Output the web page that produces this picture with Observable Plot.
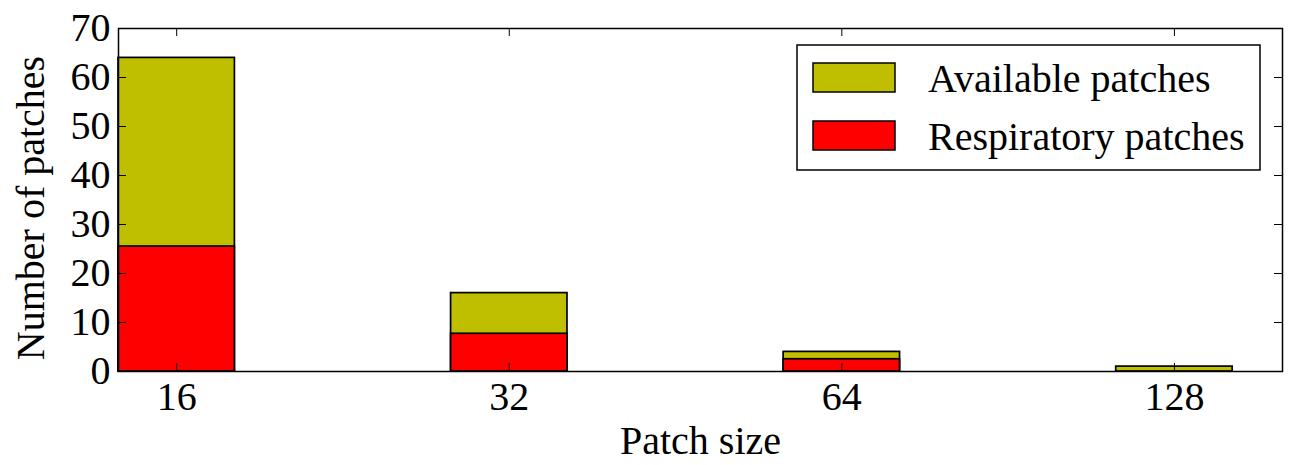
<!DOCTYPE html>
<html><head><meta charset="utf-8">
<script src="https://cdn.jsdelivr.net/npm/d3@7"></script>
<script src="https://cdn.jsdelivr.net/npm/@observablehq/plot@0.6"></script>
<style>body{margin:0;background:#fff} #chart{position:relative;width:1290px;height:465px}</style>
</head><body><div id="chart"></div>
<script>
const patchSizes = ["16", "32", "64", "128"];
const availablePatches = [64, 16, 4, 1];
const respiratoryPatches = [25.5, 7.7, 2.5, 0];
const yTicks = [0, 10, 20, 30, 40, 50, 60, 70];
const seriesNames = ["Available patches", "Respiratory patches"];
const seriesColors = ["#bfbf00", "#ff0000"];

const barWidth = 0.35;
const rows = patchSizes.map((s, i) => ({size: s, i, available: availablePatches[i], respiratory: respiratoryPatches[i]}));
const xTicks = rows.map(d => d.i + barWidth / 2);
const font = "'Liberation Serif', 'Times New Roman', serif";
const FS = 40;
const W = 1290, H = 465, mL = 118, mR = 8, mT = 28, mB = 94;
const frameH = H - mT - mB, frameW = W - mL - mR, tickLen = 8;

const plot = Plot.plot({
  width: W, height: H, marginLeft: mL, marginRight: mR, marginTop: mT, marginBottom: mB,
  style: {fontFamily: font, fontSize: FS + "px", color: "black", background: "white"},
  x: {type: "linear", domain: [0, 3.5]},
  y: {domain: [0, 70]},
  marks: [
    Plot.rect(rows, {x1: "i", x2: d => d.i + barWidth, y1: 0, y2: "available", fill: seriesColors[0], stroke: "black", strokeWidth: 1.7}),
    Plot.rect(rows, {x1: "i", x2: d => d.i + barWidth, y1: 0, y2: "respiratory", fill: seriesColors[1], stroke: "black", strokeWidth: 1.7}),
    Plot.tickX(xTicks, {x: d => d, insetTop: frameH - tickLen, stroke: "black", strokeWidth: 1}),
    Plot.tickX(xTicks, {x: d => d, insetBottom: frameH - tickLen, stroke: "black", strokeWidth: 1}),
    Plot.tickY(yTicks, {y: d => d, insetRight: frameW - tickLen, stroke: "black", strokeWidth: 1}),
    Plot.tickY(yTicks, {y: d => d, insetLeft: frameW - tickLen, stroke: "black", strokeWidth: 1}),
    Plot.axisX(xTicks, {tickSize: 0, tickPadding: 10, fontSize: FS, label: null,
      tickFormat: d => patchSizes[Math.round(d - barWidth / 2)]}),
    Plot.axisY(yTicks, {tickSize: 0, tickPadding: 8, fontSize: FS, label: null}),
    Plot.text(["Patch size"], {frameAnchor: "bottom", dy: 70, fontSize: FS, lineAnchor: "middle", textAnchor: "middle"}),
    Plot.text(["Number of patches"], {frameAnchor: "left", dx: -87, dy: 8, rotate: -90, fontSize: FS, lineAnchor: "middle", textAnchor: "middle"}),
    Plot.frame({stroke: "black", strokeWidth: 1.5})
  ]
});
document.getElementById("chart").appendChild(plot);

// legend
const svg = d3.select(plot);
const lg = svg.append("g").attr("font-family", font).attr("font-size", FS).attr("text-anchor", "start");
lg.append("rect").attr("x", 797).attr("y", 45).attr("width", 463).attr("height", 125)
  .attr("fill", "white").attr("stroke", "black").attr("stroke-width", 1.5);
seriesNames.forEach((name, k) => {
  const y0 = 63 + k * 58;
  lg.append("rect").attr("x", 813).attr("y", y0).attr("width", 82).attr("height", 29)
    .attr("fill", seriesColors[k]).attr("stroke", "black").attr("stroke-width", 1.5);
  lg.append("text").attr("x", 928).attr("y", y0 + 29).attr("fill", "black").attr("text-anchor", "start").text(name);
});
</script>
</body></html>
